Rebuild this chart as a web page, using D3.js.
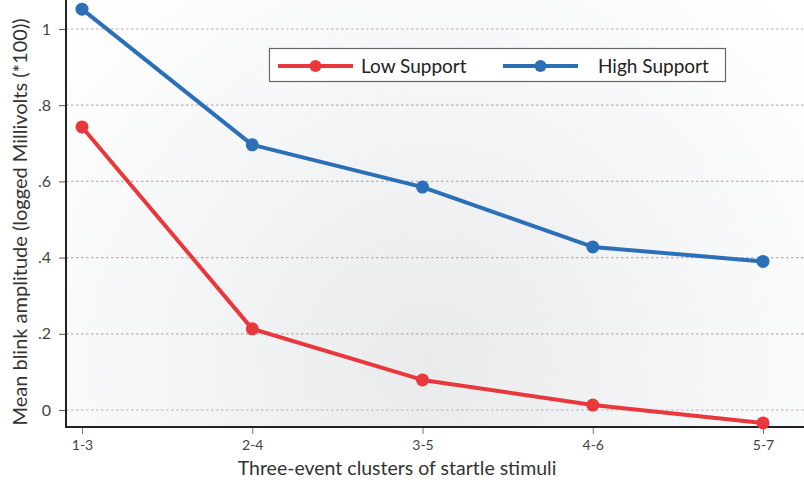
<!DOCTYPE html>
<html><head><meta charset="utf-8">
<script src="https://cdn.jsdelivr.net/npm/d3@7"></script>
<style>body{margin:0;background:#fff}svg{display:block}</style>
</head><body><svg id="c" width="804" height="480"></svg>
<script>
const categories = ["1-3","2-4","3-5","4-6","5-7"];
const lowSupport = [0.743, 0.213, 0.079, 0.013, -0.034];
const highSupport = [1.052, 0.696, 0.585, 0.428, 0.390];
const yTicks = [0, 0.2, 0.4, 0.6, 0.8, 1];
const yTickLabels = ["0", ".2", ".4", ".6", ".8", "1"];
const seriesNames = ["Low Support", "High Support"];
const seriesColors = ["#e8383b", "#2b70b6"];

const svg = d3.select("#c");
const W = 804, H = 480;
const left = 66, bottom = 427;
const font = "Lato, 'Open Sans', sans-serif";

const defs = svg.append("defs");
const rg = defs.append("radialGradient").attr("id","bg").attr("gradientUnits","userSpaceOnUse")
  .attr("cx",430).attr("cy",360).attr("r",500);
rg.append("stop").attr("offset","0%").attr("stop-color","#e9eaec");
rg.append("stop").attr("offset","55%").attr("stop-color","#f5f6f7");
rg.append("stop").attr("offset","100%").attr("stop-color","#ffffff");
svg.append("rect").attr("x",0).attr("y",0).attr("width",W).attr("height",H).attr("fill","#fff");
svg.append("rect").attr("x",left).attr("y",0).attr("width",W-left).attr("height",bottom).attr("fill","url(#bg)");

const x = d3.scalePoint().domain(categories).range([82, 763]);
const y = d3.scaleLinear().domain([0, 1]).range([410, 29]);

// grid
svg.append("g").selectAll("line").data(yTicks).join("line")
  .attr("x1", left).attr("x2", W).attr("y1", d=>y(d)).attr("y2", d=>y(d))
  .attr("stroke","#bfb0ae").attr("stroke-width",1.2).attr("stroke-dasharray","2.5,2.5");

// y axis
const ya = svg.append("g").attr("transform",`translate(${left},0)`)
  .call(d3.axisLeft(y).tickValues(yTicks).tickFormat((d,i)=>yTickLabels[i]).tickSize(7).tickPadding(8));
ya.select(".domain").remove();
ya.selectAll(".tick line").attr("stroke","#555").attr("stroke-width",1);
ya.selectAll(".tick text").attr("font-family",font).attr("font-size",16).attr("fill","#444");
svg.append("line").attr("x1",left).attr("x2",left).attr("y1",0).attr("y2",bottom).attr("stroke","#222").attr("stroke-width",2);

// x axis
const xa = svg.append("g").attr("transform",`translate(0,${bottom})`)
  .call(d3.axisBottom(x).tickSize(7).tickPadding(6));
xa.select(".domain").remove();
xa.selectAll(".tick line").attr("stroke","#777").attr("stroke-width",1);
xa.selectAll(".tick text").attr("font-family",font).attr("font-size",14).attr("fill","#444");
svg.append("line").attr("x1",left-1).attr("x2",W).attr("y1",bottom).attr("y2",bottom).attr("stroke","#222").attr("stroke-width",2);

// series
const series = [lowSupport, highSupport];
const line = d3.line().x((d,i)=>x(categories[i])).y(d=>y(d));
series.forEach((vals, si) => {
  const g = svg.append("g");
  g.append("path").datum(vals).attr("d", line).attr("fill","none")
    .attr("stroke", seriesColors[si]).attr("stroke-width",4).attr("stroke-linejoin","round");
  g.selectAll("circle").data(vals).join("circle")
    .attr("cx",(d,i)=>x(categories[i])).attr("cy",d=>y(d)).attr("r",6.5).attr("fill",seriesColors[si]);
});

// legend
const lg = svg.append("g");
lg.append("rect").attr("x",269.5).attr("y",48.5).attr("width",456).attr("height",33)
  .attr("fill","#fff").attr("stroke","#666").attr("stroke-width",1.2);
const legendItems = [{x0:278, x1:353, tx:361}, {x0:503, x1:578, tx:598}];
legendItems.forEach((it, i) => {
  lg.append("line").attr("x1",it.x0).attr("x2",it.x1).attr("y1",66).attr("y2",66)
    .attr("stroke",seriesColors[i]).attr("stroke-width",4);
  lg.append("circle").attr("cx",(it.x0+it.x1)/2).attr("cy",66).attr("r",6).attr("fill",seriesColors[i]);
  lg.append("text").attr("x",it.tx).attr("y",73).text(seriesNames[i])
    .attr("font-family",font).attr("font-size",19).attr("fill","#222");
});

// axis titles
svg.append("text").attr("transform","translate(27,222) rotate(-90)").attr("text-anchor","middle")
  .attr("font-family",font).attr("font-size",20).attr("fill","#333")
  .text("Mean blink amplitude (logged Millivolts (*100))");
svg.append("text").attr("x",397).attr("y",475).attr("text-anchor","middle")
  .attr("font-family",font).attr("font-size",19.5).attr("fill","#333")
  .text("Three-event clusters of startle stimuli");
</script></body></html>
